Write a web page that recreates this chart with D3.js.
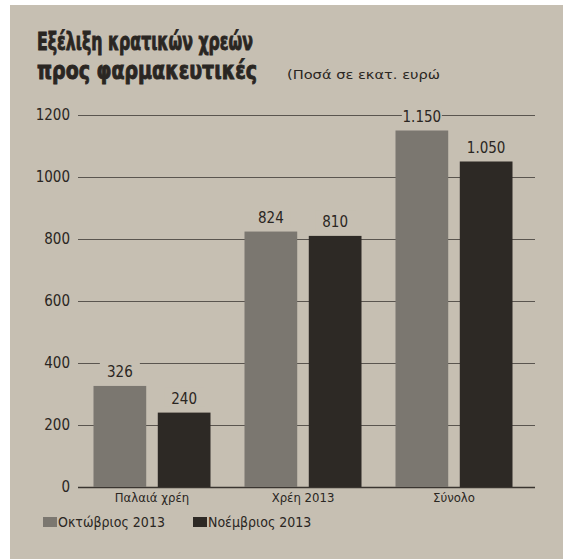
<!DOCTYPE html>
<html>
<head>
<meta charset="utf-8">
<script src="https://cdn.jsdelivr.net/npm/d3@7"></script>
<style>
body{margin:0;background:#fff;}
text{font-family:"DejaVu Sans Condensed","Liberation Sans Narrow","Roboto",sans-serif;fill:#2a2622;}
</style>
</head>
<body>
<svg width="563" height="559"></svg>
<script>
// data
var categories = ['Παλαιά χρέη','Χρέη 2013','Σύνολο'];
var series = ['Οκτώβριος 2013','Νοέμβριος 2013'];
var octValues = [326, 824, 1150];
var novValues = [240, 810, 1050];
var valueLabels = [['326','824','1.150'],['240','810','1.050']];
var yTicks = [0,200,400,600,800,1000,1200];

var colors = ['#7b7770','#2d2925'];
var bg = '#c6bfb2';

var svg = d3.select('svg');
svg.append('rect').attr('x',10).attr('y',5).attr('width',553).attr('height',554).attr('fill',bg);

// title
svg.append('text').attr('x',37).attr('y',50).attr('font-size',25).attr('font-weight','bold')
   .attr('stroke','#2a2622').attr('stroke-width',0.9)
   .attr('textLength',216).attr('lengthAdjust','spacingAndGlyphs').text('Εξέλιξη κρατικών χρεών');
svg.append('text').attr('x',37).attr('y',79).attr('font-size',25).attr('font-weight','bold')
   .attr('stroke','#2a2622').attr('stroke-width',0.9)
   .attr('textLength',220).attr('lengthAdjust','spacingAndGlyphs').text('προς φαρμακευτικές');
svg.append('text').attr('x',287).attr('y',79).attr('font-size',13)
   .attr('textLength',153).attr('lengthAdjust','spacingAndGlyphs').text('(Ποσά σε εκατ. ευρώ');

var y = d3.scaleLinear().domain([0,1200]).range([487,115]);
var x0 = d3.scaleBand().domain(categories).range([76.5,529.5]);
var x1 = d3.scaleBand().domain(series).range([17,134]).paddingInner(0.18);

// gridlines
var yAxis = d3.axisLeft(y).tickValues(yTicks).tickSize(-457).tickFormat(d3.format('d')).tickPadding(8);
var ga = svg.append('g').attr('transform','translate(78,0)').call(yAxis);
ga.select('.domain').remove();
ga.selectAll('line').attr('stroke','#5a554f').attr('stroke-width',1.1);
ga.selectAll('text').attr('font-size',15).attr('fill','#2a2622').attr('font-family','"DejaVu Sans Condensed",sans-serif');
ga.selectAll('.tick').filter(function(d){return d===0;}).select('line').attr('stroke','#3a3530').attr('stroke-width',1.6);

var allValues = [octValues, novValues];
var groups = svg.selectAll('g.grp').data(categories).enter().append('g')
   .attr('class','grp').attr('transform',function(d){return 'translate('+x0(d)+',0)';});

series.forEach(function(s,si){
  groups.append('rect')
    .attr('x',x1(s)).attr('width',x1.bandwidth())
    .attr('y',function(d,i){return y(allValues[si][i]);})
    .attr('height',function(d,i){return y(0)-y(allValues[si][i]);})
    .attr('fill',colors[si]);
  groups.append('rect')
    .attr('x',x1(s)+x1.bandwidth()/2-20).attr('width',40)
    .attr('y',function(d,i){return y(allValues[si][i])-25;}).attr('height',19)
    .attr('fill',bg);
  groups.append('text')
    .attr('x',x1(s)+x1.bandwidth()/2)
    .attr('y',function(d,i){return y(allValues[si][i])-9;})
    .attr('text-anchor','middle').attr('font-size',15)
    .text(function(d,i){return valueLabels[si][i];});
});

// category labels
groups.append('text').attr('x',x0.bandwidth()/2).attr('y',502).attr('text-anchor','middle')
  .attr('font-size',13).text(function(d){return d;});

// legend
var legX = [43,193];
series.forEach(function(s,si){
  svg.append('rect').attr('x',legX[si]).attr('y',517).attr('width',14).attr('height',10).attr('fill',colors[si]);
  svg.append('text').attr('x',legX[si]+15).attr('y',527).attr('font-size',14).text(s);
});
</script>
</body>
</html>
